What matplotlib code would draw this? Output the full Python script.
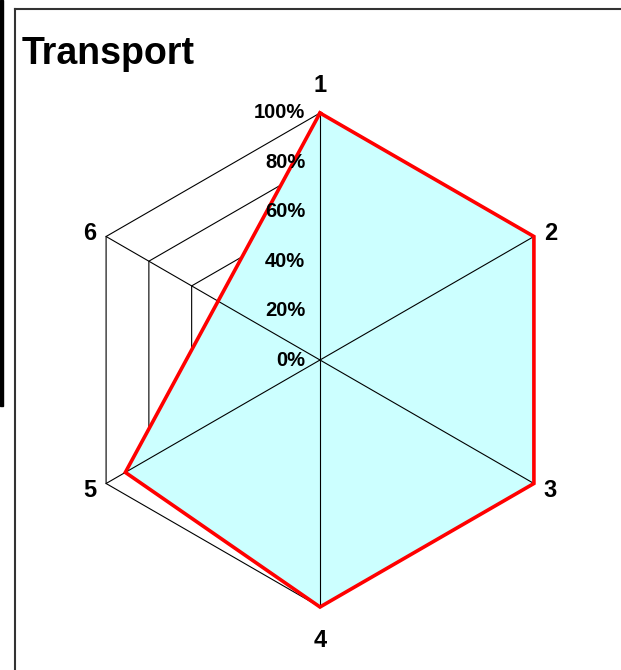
import matplotlib
matplotlib.use("Agg")
import matplotlib.pyplot as plt
import matplotlib.patches as mpatches
import numpy as np

# data
categorias = ["1", "2", "3", "4", "5", "6"]
valores = [100, 100, 100, 100, 91, np.nan]   # eixo 6 sem valor
niveis = [0, 20, 40, 60, 80, 100]
titulo = "Transport"

plt.rcParams['font.family'] = ['Liberation Sans', 'DejaVu Sans']

fig = plt.figure(figsize=(6.21, 6.70), dpi=100)
ax = fig.add_axes([0, 0, 1, 1])
ax.set_xlim(-320 / 247, 301 / 247)
ax.set_ylim(-310 / 247, 360 / 247)
ax.set_aspect('equal')
ax.axis('off')

n = len(categorias)
ang = np.pi / 2 - np.arange(n) * 2 * np.pi / n
ux, uy = np.cos(ang), np.sin(ang)

# grade hexagonal (fica por baixo do preenchimento)
for nv in niveis[1:]:
    r = nv / 100
    ax.plot(np.append(ux, ux[0]) * r, np.append(uy, uy[0]) * r, color='black', lw=0.8, zorder=1)

# serie
v = np.array(valores, dtype=float) / 100
ok = ~np.isnan(v)
px, py = ux[ok] * v[ok], uy[ok] * v[ok]
ax.fill(px, py, color='#CCFFFF', zorder=2)

# raios
for i in range(n):
    ax.plot([0, ux[i]], [0, uy[i]], color='black', lw=0.8, zorder=3)

ax.plot(np.append(px, px[0]), np.append(py, py[0]), color='#FF0000', lw=2.6, zorder=4,
        solid_joinstyle='miter')

# rotulos de escala
for nv in niveis:
    ax.text(-0.06, nv / 100, f"{nv}%", ha='right', va='center', fontsize=14.5,
            fontweight='bold', zorder=5)

# rotulos das categorias
offs = [(0, 0.11), (0.04, 0.012), (0.04, -0.03), (0, -0.135), (-0.04, -0.03), (-0.04, 0.012)]
for i, c in enumerate(categorias):
    ha = 'center' if offs[i][0] == 0 else ('left' if offs[i][0] > 0 else 'right')
    ax.text(ux[i] + offs[i][0], uy[i] + offs[i][1], c, ha=ha, va='center', fontsize=17,
            fontweight='bold', zorder=5)

fig.text(22 / 621, 1 - 64 / 670, titulo, fontsize=27, fontweight='bold', ha='left', va='baseline')

# moldura
fig.add_artist(plt.Line2D([15 / 621, 15 / 621], [0, 1 - 9 / 670], color='#333333', lw=1.5,
                          transform=fig.transFigure))
fig.add_artist(plt.Line2D([15 / 621, 1], [1 - 9 / 670, 1 - 9 / 670], color='#333333', lw=1.5,
                          transform=fig.transFigure))
fig.add_artist(mpatches.Rectangle((0, 1 - 406 / 670), 3 / 621, 406 / 670, color='black',
                                  transform=fig.transFigure))

fig.savefig('out.png', dpi=100)
